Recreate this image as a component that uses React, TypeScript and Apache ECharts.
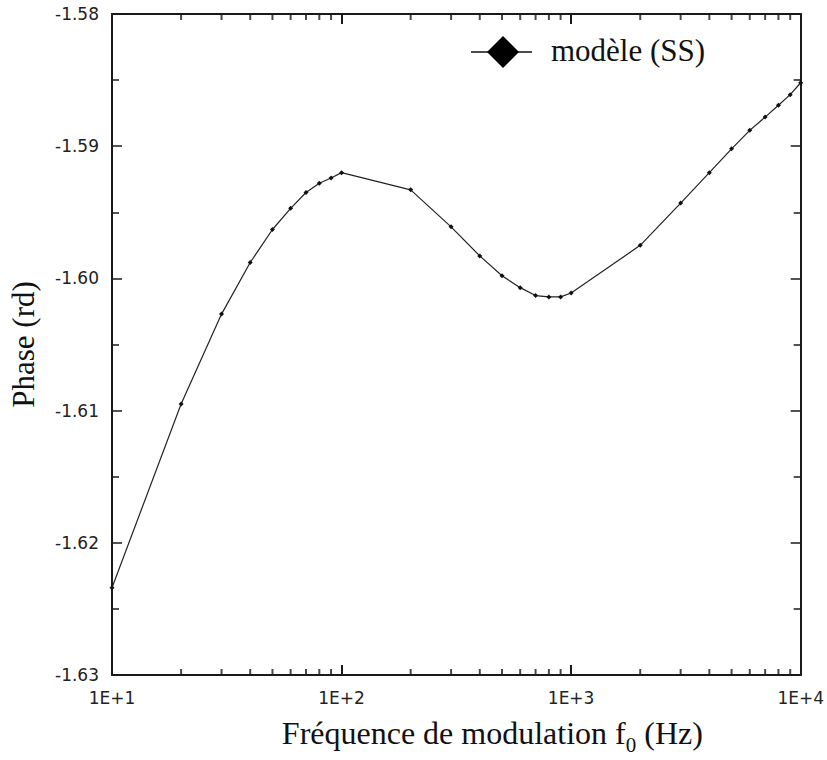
import React, { useEffect, useRef } from "react";
import * as echarts from "echarts";

const frequencies = [10, 20, 30, 40, 50, 60, 70, 80, 90, 100, 200, 300, 400, 500, 600, 700, 800, 900, 1000, 2000, 3000, 4000, 5000, 6000, 7000, 8000, 9000, 10000];
const phaseModel = [-1.6234, -1.6095, -1.6027, -1.5988, -1.5963, -1.5947, -1.5935, -1.5928, -1.5924, -1.592, -1.5933, -1.5961, -1.5983, -1.5998, -1.6007, -1.6013, -1.6014, -1.6014, -1.6011, -1.5975, -1.5943, -1.592, -1.5902, -1.5888, -1.5878, -1.5869, -1.5861, -1.5852];
const minorFreqTicks = [20, 30, 40, 50, 60, 70, 80, 90, 200, 300, 400, 500, 600, 700, 800, 900, 2000, 3000, 4000, 5000, 6000, 7000, 8000, 9000];
const Y_MIN = -1.63;
const Y_MAX = -1.58;
const Y_STEP = 0.01;
const seriesName = "modèle (SS)";

const AXIS_COLOR = "#1a1a1a";
const LABEL_FONT = "DejaVu Sans";
const TITLE_FONT = "Liberation Serif";
const TITLE_SIZE = 31;

export default function App() {
  const ref = useRef<HTMLDivElement>(null);
  useEffect(() => {
    if (!ref.current) return;
    const chart = echarts.init(ref.current, undefined, { renderer: "svg" });
    const axisLine = { show: true, lineStyle: { color: AXIS_COLOR, width: 2 } };
    const xTick = { show: true, inside: true, length: 10, lineStyle: { color: AXIS_COLOR, width: 2 } };
    const yTick = { show: true, inside: true, length: 10, lineStyle: { color: AXIS_COLOR, width: 1.5 } };
    const yMinor = { show: true, splitNumber: 2, length: 7, lineStyle: { color: AXIS_COLOR, width: 1.5 } };
    chart.setOption({
      animation: false,
      backgroundColor: "#ffffff",
      grid: { left: 110, top: 14, right: 26, bottom: 77, containLabel: false },
      xAxis: [
        {
          type: "log",
          logBase: 10,
          min: 10,
          max: 10000,
          position: "bottom",
          axisLine,
          axisTick: xTick,
          splitLine: { show: false },
          axisLabel: {
            show: true,
            margin: 14,
            fontFamily: LABEL_FONT,
            fontSize: 17,
            color: "#222",
            formatter: (v: number) => "1E+" + Math.round(Math.log10(v)),
          },
          name: "{a|Fréquence de modulation f}{s|0}{a| (Hz)}",
          nameLocation: "middle",
          nameGap: 40,
          nameTextStyle: {
            padding: [0, 0, 0, 72],
            rich: {
              a: { fontFamily: TITLE_FONT, fontSize: 32, color: "#111", verticalAlign: "bottom", lineHeight: 34 },
              s: { fontFamily: TITLE_FONT, fontSize: 21, color: "#111", verticalAlign: "bottom", lineHeight: 34, padding: [0, 0, -6, 0] },
            },
          },
        },
        {
          type: "log",
          logBase: 10,
          min: 10,
          max: 10000,
          position: "top",
          axisLine,
          axisTick: xTick,
          axisLabel: { show: false },
          splitLine: { show: false },
        },
      ],
      yAxis: [
        {
          type: "value",
          min: Y_MIN,
          max: Y_MAX,
          interval: Y_STEP,
          position: "left",
          axisLine,
          axisTick: yTick,
          minorTick: yMinor,
          splitLine: { show: false },
          axisLabel: {
            margin: 13,
            fontFamily: LABEL_FONT,
            fontSize: 17,
            color: "#222",
            formatter: (v: number) => v.toFixed(2),
          },
          name: "Phase (rd)",
          nameLocation: "middle",
          nameGap: 73,
          nameRotate: 90,
          nameTextStyle: { fontFamily: TITLE_FONT, fontSize: TITLE_SIZE, color: "#111" },
        },
        {
          type: "value",
          min: Y_MIN,
          max: Y_MAX,
          interval: Y_STEP,
          position: "right",
          axisLine,
          axisTick: yTick,
          minorTick: yMinor,
          splitLine: { show: false },
          axisLabel: { show: false },
        },
      ],
      series: [
        {
          name: seriesName,
          type: "line",
          xAxisIndex: 0,
          yAxisIndex: 0,
          data: frequencies.map((f, i) => [f, phaseModel[i]]),
          symbol: "diamond",
          symbolSize: 5,
          showSymbol: true,
          lineStyle: { color: "#222", width: 1.2 },
          itemStyle: { color: "#111" },
          z: 5,
        },
        {
          type: "scatter",
          xAxisIndex: 0,
          yAxisIndex: 0,
          silent: true,
          clip: false,
          data: minorFreqTicks.map((f) => [f, Y_MIN]),
          symbol: "rect",
          symbolSize: [2, 6],
          symbolOffset: [0, -3],
          itemStyle: { color: AXIS_COLOR },
          z: 6,
        },
        {
          type: "scatter",
          xAxisIndex: 0,
          yAxisIndex: 0,
          silent: true,
          clip: false,
          data: minorFreqTicks.map((f) => [f, Y_MAX]),
          symbol: "rect",
          symbolSize: [2, 6],
          symbolOffset: [0, 3],
          itemStyle: { color: AXIS_COLOR },
          z: 6,
        },
      ],
      graphic: [
        { type: "line", shape: { x1: 471, y1: 52, x2: 532, y2: 52 }, style: { stroke: "#111", lineWidth: 1.5 } },
        { type: "polygon", shape: { points: [[503, 36], [519, 52], [503, 68], [487, 52]] }, style: { fill: "#000" } },
        {
          type: "text",
          x: 551,
          y: 50,
          style: { text: seriesName, fontFamily: TITLE_FONT, fontSize: TITLE_SIZE, fill: "#111", verticalAlign: "middle" },
        },
      ],
    });
    return () => chart.dispose();
  }, []);
  return <div ref={ref} style={{ position: "fixed", left: 0, top: 0, width: 827, height: 760 }} />;
}
